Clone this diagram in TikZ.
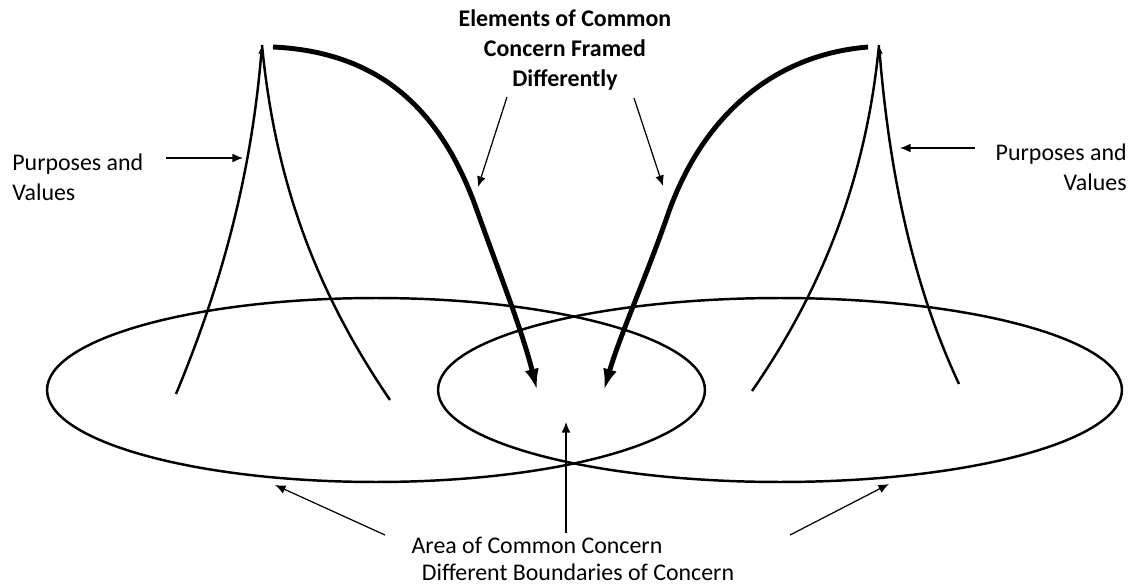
\documentclass[tikz,border=0pt]{standalone}
\usepackage{fontspec}
\setmainfont{Carlito}
\usetikzlibrary{arrows.meta}

\begin{document}
\begin{tikzpicture}[x=0.02cm, y=-0.02cm,
    lab/.style={font=\fontsize{13.6}{17}\selectfont, inner sep=0pt},
    ring/.style={draw, line width=1.4pt},
    peak/.style={line width=1.4pt},
    frame/.style={line width=2.8pt, -{Latex[length=12pt,width=8pt]}},
    pointer/.style={-{Latex[length=6pt,width=5pt]}, line width=0.7pt}
  ]
    \useasboundingbox (0,0) rectangle (1132,587);

    \draw[ring] (376,390) ellipse [x radius=6.58cm, y radius=1.84cm];
    \draw[ring] (780,390) ellipse [x radius=6.84cm, y radius=1.84cm];

    \coordinate (tipL) at (262,45);
    \coordinate (tipR) at (879,45);
    \draw[peak, -{Latex[length=5pt,width=3.5pt]}] (176,394) .. controls (215,300) and (250,190) .. (tipL);
    \draw[peak] (390,400) .. controls (315,290) and (275,180) .. (tipL);
    \draw[peak] (752,391) .. controls (815,300) and (865,190) .. (tipR);
    \draw[peak, -{Latex[length=5pt,width=3.5pt]}] (959,384) .. controls (915,290) and (890,180) .. (tipR);

    \coordinate (fromL) at (273,47);
    \coordinate (fromR) at (868,47);
    \coordinate (intoL) at (537,390);
    \coordinate (intoR) at (604,390);
    \draw[frame] (fromL) .. controls (380,52) and (440,110) .. (475,205)
      .. controls (500,275) and (522,330) .. (intoL);
    \draw[frame] (fromR) .. controls (770,55) and (700,120) .. (667,217)
      .. controls (645,280) and (620,335) .. (intoR);

    \node[lab, font=\fontsize{13.6}{17}\selectfont\bfseries, align=center] (framed) at (565,50)
      {Elements of Common\\Concern Framed\\Differently};
    \node[lab, align=left, anchor=west] (pvL) at (12,177) {Purposes and\\Values};
    \node[lab, align=right, anchor=east] (pvR) at (1127,167) {Purposes and\\Values};
    \node[lab] (area) at (537,545) {Area of Common Concern};
    \node[lab] (bounds) at (578,572) {Different Boundaries of Concern};

    \coordinate (pvLtail) at (166,158);
    \coordinate (pvLhead) at (243,158);
    \coordinate (pvRtail) at (975,148);
    \coordinate (pvRhead) at (900,148);
    \coordinate (frLtail) at (507,97);
    \coordinate (frLhead) at (478,187);
    \coordinate (frRtail) at (634,98);
    \coordinate (frRhead) at (663,186);
    \coordinate (areaHead) at (566,422);
    \coordinate (bdLtail) at (385,535);
    \coordinate (bdLhead) at (275,485);
    \coordinate (bdRtail) at (790,535);
    \coordinate (bdRhead) at (889,484);

    \draw[pointer] (pvLtail) -- (pvLhead);
    \draw[pointer] (pvRtail) -- (pvRhead);
    \draw[pointer] (frLtail) -- (frLhead);
    \draw[pointer] (frRtail) -- (frRhead);
    \draw[pointer] (area.north -| areaHead) ++(0,-3) -- (areaHead);
    \draw[pointer] (bdLtail) -- (bdLhead);
    \draw[pointer] (bdRtail) -- (bdRhead);
\end{tikzpicture}
\end{document}
